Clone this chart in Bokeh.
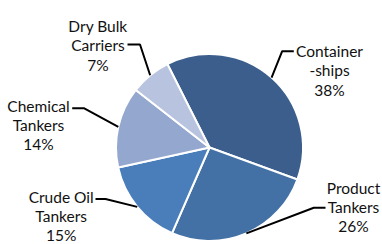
import math
from bokeh.plotting import figure
from bokeh.models import Range1d, ColumnDataSource
from bokeh.core.properties import value
from bokeh.embed import file_html
from bokeh.resources import INLINE

# ---- data ----
categories = ["Container-ships", "Product Tankers", "Crude Oil Tankers",
              "Chemical Tankers", "Dry Bulk Carriers"]
label_lines = [["Container", "-ships"], ["Product", "Tankers"], ["Crude Oil", "Tankers"],
               ["Chemical", "Tankers"], ["Dry Bulk", "Carriers"]]
shares = [38, 26, 15, 14, 7]

# ---- style / layout ----
colors = ["#3B5E8C", "#4371A6", "#4A7EBB", "#94A7CF", "#B8C4DF"]
W, H = 382, 244
def sy(y):  # screen y -> data y
    return H - y

cx, cy = 209, sy(147)
R = 93.5
start_deg = -26.8  # clockwise from 12 o'clock

# label anchors: (center x, first baseline screen y)
label_pos = [(329, 50.7), (353, 187), (60.7, 196.5), (38, 105.5), (97.5, 25.7)]
line_gap = 19.2
# leader elbow and end points (screen coords)
leader_knee = [(281.7, 50.7), (313.3, 207.3), (105, 198.5), (83.3, 107.7), (139.5, 44)]
leader_end = [(293.3, 50.7), (325, 207.3), (95, 198.5), (71.7, 107.7), (127, 44)]

p = figure(width=W, height=H, x_range=Range1d(0, W), y_range=Range1d(0, H),
           output_backend="svg", toolbar_location=None, min_border=0,
           x_axis_location=None, y_axis_location=None)
p.grid.visible = False
p.outline_line_color = None
p.background_fill_color = "white"

starts, ends, mids = [], [], []
cum = 0.0
for s in shares:
    t0 = start_deg + 3.6 * cum
    t1 = t0 + 3.6 * s
    starts.append(math.radians(90 - t0))
    ends.append(math.radians(90 - t1))
    mids.append(math.radians(t0 + 1.8 * s))
    cum += s

src = ColumnDataSource(dict(x=[cx] * len(shares), y=[cy] * len(shares),
                            start=starts, end=ends, color=colors, name=categories))
p.wedge(x="x", y="y", radius=R, start_angle="start", end_angle="end",
        direction="clock", fill_color="color", line_color="white", line_width=2,
        source=src)

# leader lines
xs, ys = [], []
for i, m in enumerate(mids):
    px = cx + R * math.sin(m)
    py = cy + R * math.cos(m)
    kx, ky = leader_knee[i]
    ex, ey = leader_end[i]
    xs.append([px, kx, ex])
    ys.append([py, sy(ky), sy(ey)])
p.multi_line(xs=xs, ys=ys, line_color="black", line_width=2)

# labels
tx, ty, tt = [], [], []
for i, lines in enumerate(label_lines):
    lx, ly = label_pos[i]
    all_lines = lines + [f"{shares[i]}%"]
    for j, t in enumerate(all_lines):
        tx.append(lx)
        ty.append(sy(ly + j * line_gap))
        tt.append(t)
p.text(x=tx, y=ty, text=tt, text_align="center", text_baseline="alphabetic",
       text_font=value("Lato"), text_font_size="15.5px", text_color="#111111")

open("out.html", "w").write(file_html(p, INLINE))
